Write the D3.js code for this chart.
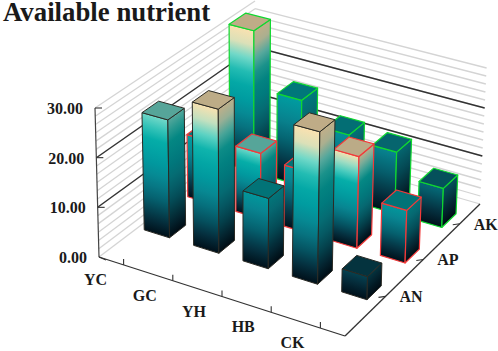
<!DOCTYPE html>
<html>
<head>
<meta charset="utf-8">
<script src="https://cdnjs.cloudflare.com/ajax/libs/d3/7.8.5/d3.min.js"></script>
<style>
  html, body { margin: 0; padding: 0; background: #fff; }
  text { font-family: "Liberation Serif", serif; font-weight: bold; fill: #1a1a1a; }
</style>
</head>
<body>
<div id="chart"></div>
<script>
var sites = ["YC", "GC", "YH", "HB", "CK"];
var nutrients = ["AN", "AP", "AK"];
var AN = [24, 29, 14, 30, 4.5];
var AP = [13, 13.5, 12.5, 18.5, 10.5];
var AK = [30, 18, 13.5, 12.7, 8];
// colour level reached at the top of each bar
var toneAN = [24, 29, 14, 30, 4.5];
var toneAP = [16, 24, 14, 28, 14];
var toneAK = [30, 15, 13, 11, 8];
var zTicks = [0, 10, 20, 30];
var edgeColors = ["#2a2a24", "#f23a3a", "#10d830"];

var width = 498, height = 351;
var svg = d3.select("#chart").append("svg").attr("width", width).attr("height", height);
var defs = svg.append("defs");

// box corners on screen, floor and top of the z range
var floor = {a: [99, 257], b: [345, 336], c: [480, 204], d: [255, 139]};
var top30 = {a: [95, 108], b: [348, 178], c: [487, 60], d: [255, 1]};

var uTick = d3.scalePoint().domain(sites).range([0.1, 0.9]);
var u = d3.scalePoint().domain(sites).range([0.08, 0.9]);
var v = d3.scaleOrdinal().domain(nutrients).range([0.3, 0.58, 0.85]);
var z = d3.scaleLinear().domain([0, 30]).range([0, 1]);
var barW = 0.105, barD = 0.105;

function lerp(p, q, t) { return [p[0] + (q[0] - p[0]) * t, p[1] + (q[1] - p[1]) * t]; }
function corner(box, s, t) { return lerp(lerp(box.a, box.b, s), lerp(box.d, box.c, s), t); }
function project(s, t, val) { return lerp(corner(floor, s, t), corner(top30, s, t), z(val)); }
function path(pts) { return "M" + pts.map(function (p) { return p[0] + "," + p[1]; }).join("L") + "Z"; }
function line(p, q, color, w) {
  svg.append("line").attr("x1", p[0]).attr("y1", p[1]).attr("x2", q[0]).attr("y2", q[1])
     .attr("stroke", color).attr("stroke-width", w);
}

// walls
var minor = d3.range(0, 19).map(function (i) { return i * 10 / 6; });
minor.forEach(function (m) {
  line(project(0, 0, m), project(0, 1, m), "#d4d4d4", 1.3);
  if (m < 29) line(project(0, 1, m), project(1, 1, m), "#d4d4d4", 1.3);
});
[10, 20].forEach(function (m) {
  line(project(0, 0, m), project(0, 1, m), "#333", 1.3);
  line(project(0, 1, m), project(1, 1, m), "#333", 1.3);
});

// colour by height
var colorZ = d3.scaleLinear()
  .domain([0, 3, 7, 11, 15, 20, 22, 24, 26, 28, 31])
  .range(["#00101a", "#05303f", "#05606e", "#088490", "#009ca0", "#06b0aa", "#40c8bc", "#70d8c8", "#c0e0c0", "#f5e0b0", "#fbe2b0"]);

function shade(c, k) { return d3.rgb(c).darker(k).formatHex(); }

var gid = 0;
function faceGradient(s0, t0, s1, t1, val, tone, k) {
  // band direction follows the bottom edge of the face
  var p0 = project(s0, t0, 0), p1 = project(s1, t1, 0), q = project(s0, t0, val);
  var ex = p1[0] - p0[0], ey = p1[1] - p0[1], len = Math.hypot(ex, ey);
  var nx = -ey / len, ny = ex / len;
  var d = (q[0] - p0[0]) * nx + (q[1] - p0[1]) * ny;
  var id = "g" + (gid++);
  var g = defs.append("linearGradient").attr("id", id).attr("gradientUnits", "userSpaceOnUse")
    .attr("x1", p0[0]).attr("y1", p0[1]).attr("x2", p0[0] + nx * d).attr("y2", p0[1] + ny * d);
  d3.range(0, 1.0001, 0.1).forEach(function (f) {
    g.append("stop").attr("offset", f).attr("stop-color", shade(colorZ(f * tone), k));
  });
  return "url(#" + id + ")";
}

// back rows first, left to right
var series = [AN, AP, AK];
var tones = [toneAN, toneAP, toneAK];
var bars = [];
nutrients.forEach(function (n, i) {
  sites.forEach(function (s, j) { bars.push({site: s, nut: n, row: i, val: series[i][j], tone: tones[i][j]}); });
});
bars.sort(function (p, q) { return d3.descending(p.row, q.row) || d3.ascending(sites.indexOf(p.site), sites.indexOf(q.site)); });

bars.forEach(function (d) {
  var s0 = u(d.site) - barW / 2, s1 = u(d.site) + barW / 2;
  var t0 = v(d.nut) - barD / 2, t1 = v(d.nut) + barD / 2;
  var edge = edgeColors[d.row], h = d.val;
  var g = svg.append("g").attr("stroke", edge).attr("stroke-width", d.row === 0 ? 1 : 1.2).attr("stroke-linejoin", "round");
  g.append("path").attr("d", path([project(s0, t0, 0), project(s1, t0, 0), project(s1, t0, h), project(s0, t0, h)]))
    .attr("fill", faceGradient(s0, t0, s1, t0, h, d.tone, 0));
  g.append("path").attr("d", path([project(s1, t0, 0), project(s1, t1, 0), project(s1, t1, h), project(s1, t0, h)]))
    .attr("fill", faceGradient(s1, t0, s1, t1, h, d.tone, 0.7));
  g.append("path").attr("d", path([project(s0, t0, h), project(s1, t0, h), project(s1, t1, h), project(s0, t1, h)]))
    .attr("fill", shade(colorZ(d.tone), 0.75));
});

// axes
line(floor.a, floor.b, "#333", 1.3);
line(floor.b, floor.c, "#333", 1.3);
line(top30.a, floor.a, "#444", 1.2);

zTicks.forEach(function (m) {
  var p = project(0, 0, m);
  line(p, [p[0] + 7, p[1] - (m === 0 ? -3 : 0)], "#333", 1.1);
  svg.append("text").attr("x", p[0] - 12).attr("y", p[1] + 6).attr("text-anchor", "end")
     .attr("font-size", 16).text(d3.format(".2f")(m));
});
sites.forEach(function (s) {
  var p = corner(floor, uTick(s), 0);
  line(p, [p[0], p[1] - 6], "#333", 1.1);
  svg.append("text").attr("x", p[0] - 28).attr("y", p[1] + 20).attr("text-anchor", "middle")
     .attr("font-size", 16).text(s);
});
nutrients.forEach(function (n) {
  var p = corner(floor, 1, v(n));
  line(p, [p[0] - 7, p[1] + 1], "#333", 1.1);
  svg.append("text").attr("x", p[0] + 14).attr("y", p[1] + 6)
     .attr("font-size", 16).text(n);
});

svg.append("text").attr("x", 3).attr("y", 21).attr("font-size", 26.8).text("Available nutrient");
</script>
</body>
</html>
